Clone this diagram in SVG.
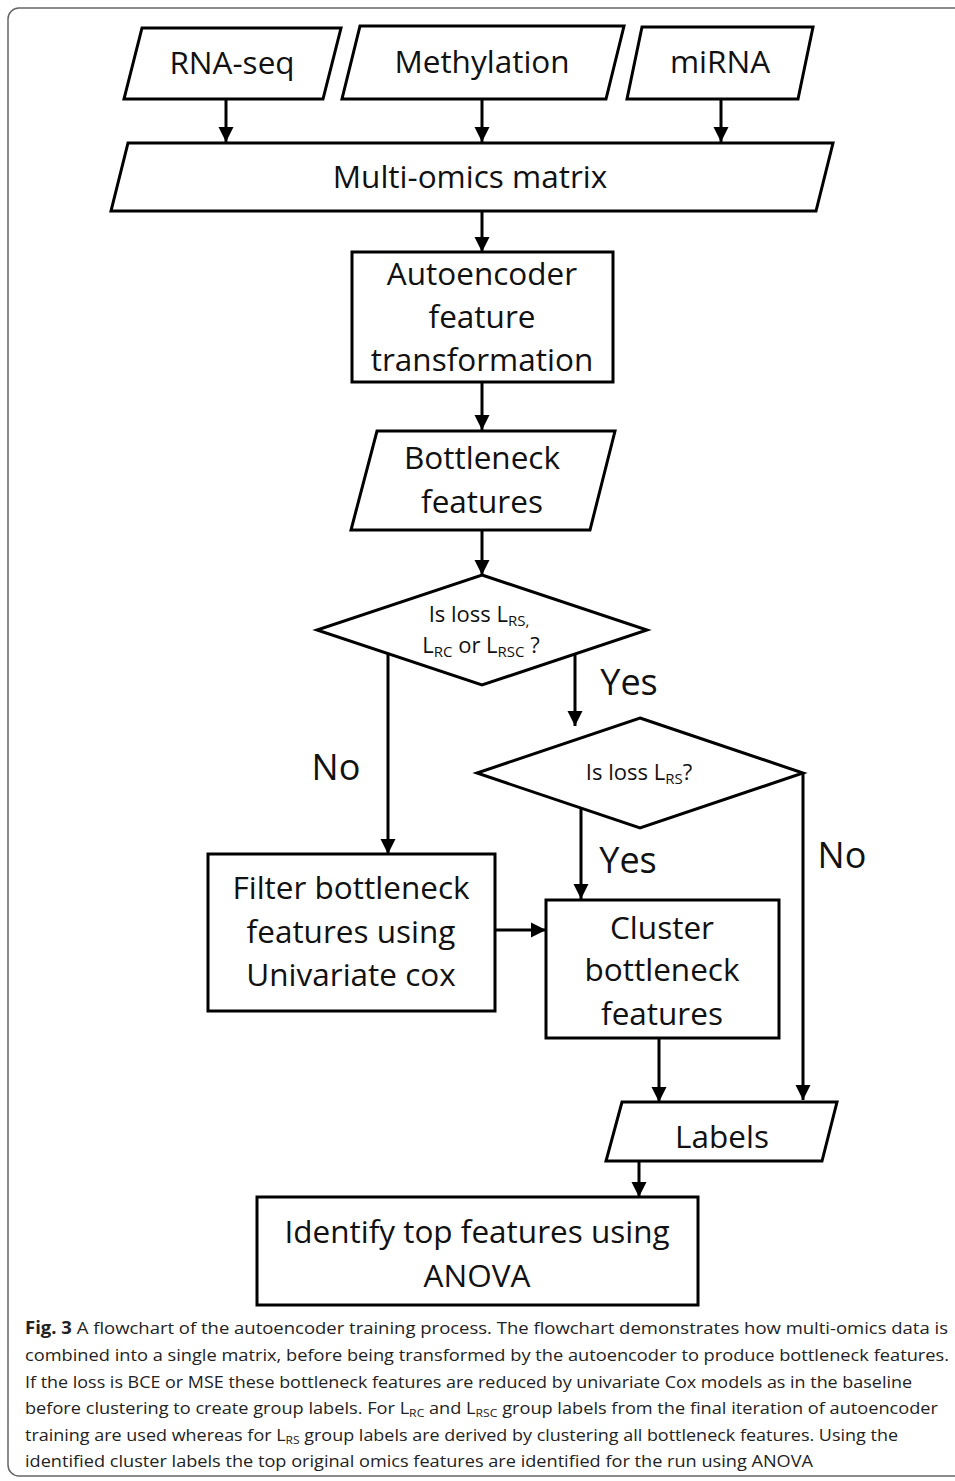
<svg xmlns="http://www.w3.org/2000/svg" width="955" height="1481" viewBox="0 0 955 1481">
<defs>
<marker id="ah" viewBox="0 0 10 10" refX="10" refY="5" markerWidth="5" markerHeight="5.2" markerUnits="strokeWidth" orient="auto">
<path d="M0,0 L10,5 L0,10 z" fill="#000"/>
</marker>
<style>
.sh{fill:#fff;stroke:#000;stroke-width:3}
.t{font-family:"Open Sans","Liberation Sans",sans-serif;font-size:31.5px;fill:#111;text-anchor:middle}
.d{font-family:"Open Sans","Liberation Sans",sans-serif;font-size:22px;fill:#111;text-anchor:middle}
.lb{font-family:"Open Sans","Liberation Sans",sans-serif;font-size:36px;fill:#111;text-anchor:middle}
.c{fill:none;stroke:#000;stroke-width:3;marker-end:url(#ah)}
.cap{font-family:"Open Sans","Liberation Sans",sans-serif;font-size:17.2px;fill:#222}
</style>
</defs>
<rect x="8" y="8" width="990" height="1468" rx="11" fill="#fff" stroke="#666" stroke-width="1.5"/>

<g id="connectors">
<line class="c" x1="226" y1="99" x2="226" y2="142"/>
<line class="c" x1="482" y1="99" x2="482" y2="142"/>
<line class="c" x1="721" y1="99" x2="721" y2="142"/>
<line class="c" x1="482" y1="211" x2="482" y2="252"/>
<line class="c" x1="482" y1="382" x2="482" y2="430"/>
<line class="c" x1="482" y1="530" x2="482" y2="575"/>
<line class="c" x1="388" y1="653" x2="388" y2="854"/>
<line class="c" x1="575" y1="654" x2="575" y2="726"/>
<line class="c" x1="581" y1="808" x2="581" y2="899"/>
<line class="c" x1="803" y1="773" x2="803" y2="1100"/>
<line class="c" x1="495" y1="930" x2="546" y2="930"/>
<line class="c" x1="659" y1="1038" x2="659" y2="1102"/>
<line class="c" x1="639" y1="1161" x2="639" y2="1197"/>
<text class="lb" x="629" y="695">Yes</text>
<text class="lb" x="336" y="780">No</text>
<text class="lb" x="628" y="873">Yes</text>
<text class="lb" x="842" y="868">No</text>
</g>

<g id="rnaseq">
<polygon class="sh" points="142,28 341,28 323,99 124,99"/>
<text class="t" x="232" y="74">RNA-seq</text>
</g>
<g id="methylation">
<polygon class="sh" points="360,26 624,26 606,99 342,99"/>
<text class="t" x="482" y="73">Methylation</text>
</g>
<g id="mirna">
<polygon class="sh" points="642,27 813,27 798,99 627,99"/>
<text class="t" x="720" y="73">miRNA</text>
</g>
<g id="multiomics">
<polygon class="sh" points="128,143 833,143 816,211 111,211"/>
<text class="t" x="470" y="188">Multi-omics matrix</text>
</g>
<g id="autoencoder">
<rect class="sh" x="352" y="252" width="261" height="130"/>
<text class="t" x="482" y="285">Autoencoder</text>
<text class="t" x="482" y="328">feature</text>
<text class="t" x="482" y="371">transformation</text>
</g>
<g id="bottleneck">
<polygon class="sh" points="377,431 615,431 590,530 351,530"/>
<text class="t" x="482" y="469">Bottleneck</text>
<text class="t" x="482" y="513">features</text>
</g>
<g id="decision1">
<polygon class="sh" points="482,575 647,630 482,685 317,630"/>
<text class="d" x="479" y="622">Is loss L<tspan font-size="15" dy="4">RS,</tspan></text>
<text class="d" x="481" y="653">L<tspan font-size="15" dy="4">RC</tspan><tspan dy="-4"> or L</tspan><tspan font-size="15" dy="4">RSC</tspan><tspan dy="-4"> ?</tspan></text>
</g>
<g id="decision2">
<polygon class="sh" points="640,718 803,773 640,828 477,773"/>
<text class="d" x="639" y="780">Is loss L<tspan font-size="15" dy="4">RS</tspan><tspan dy="-4">?</tspan></text>
</g>
<g id="filter">
<rect class="sh" x="208" y="854" width="287" height="157"/>
<text class="t" x="351" y="899">Filter bottleneck</text>
<text class="t" x="351" y="943">features using</text>
<text class="t" x="351" y="986">Univariate cox</text>
</g>
<g id="cluster">
<rect class="sh" x="546" y="900" width="233" height="138"/>
<text class="t" x="662" y="939">Cluster</text>
<text class="t" x="662" y="981">bottleneck</text>
<text class="t" x="662" y="1025">features</text>
</g>
<g id="labels">
<polygon class="sh" points="622,1102 837,1102 822,1161 606,1161"/>
<text class="t" x="722" y="1148">Labels</text>
</g>
<g id="identify">
<rect class="sh" x="257" y="1197" width="441" height="108"/>
<text class="t" x="477" y="1243">Identify top features using</text>
<text class="t" x="477" y="1287">ANOVA</text>
</g>

<g id="caption">
<text class="cap" x="25" y="1334" textLength="923" lengthAdjust="spacingAndGlyphs"><tspan font-weight="bold">Fig. 3</tspan>  A flowchart of the autoencoder training process. The flowchart demonstrates how multi-omics data is</text>
<text class="cap" x="25" y="1361" textLength="924" lengthAdjust="spacingAndGlyphs">combined into a single matrix, before being transformed by the autoencoder to produce bottleneck features.</text>
<text class="cap" x="25" y="1388" textLength="887" lengthAdjust="spacingAndGlyphs">If the loss is BCE or MSE these bottleneck features are reduced by univariate Cox models as in the baseline</text>
<text class="cap" x="25" y="1414" textLength="913" lengthAdjust="spacingAndGlyphs">before clustering to create group labels. For L<tspan font-size="11.5" dy="3">RC</tspan><tspan dy="-3"> and L</tspan><tspan font-size="11.5" dy="3">RSC</tspan><tspan dy="-3"> group labels from the final iteration of autoencoder</tspan></text>
<text class="cap" x="25" y="1441" textLength="873" lengthAdjust="spacingAndGlyphs">training are used whereas for L<tspan font-size="11.5" dy="3">RS</tspan><tspan dy="-3"> group labels are derived by clustering all bottleneck features. Using the</tspan></text>
<text class="cap" x="25" y="1467" textLength="788" lengthAdjust="spacingAndGlyphs">identified cluster labels the top original omics features are identified for the run using ANOVA</text>
</g>
</svg>
